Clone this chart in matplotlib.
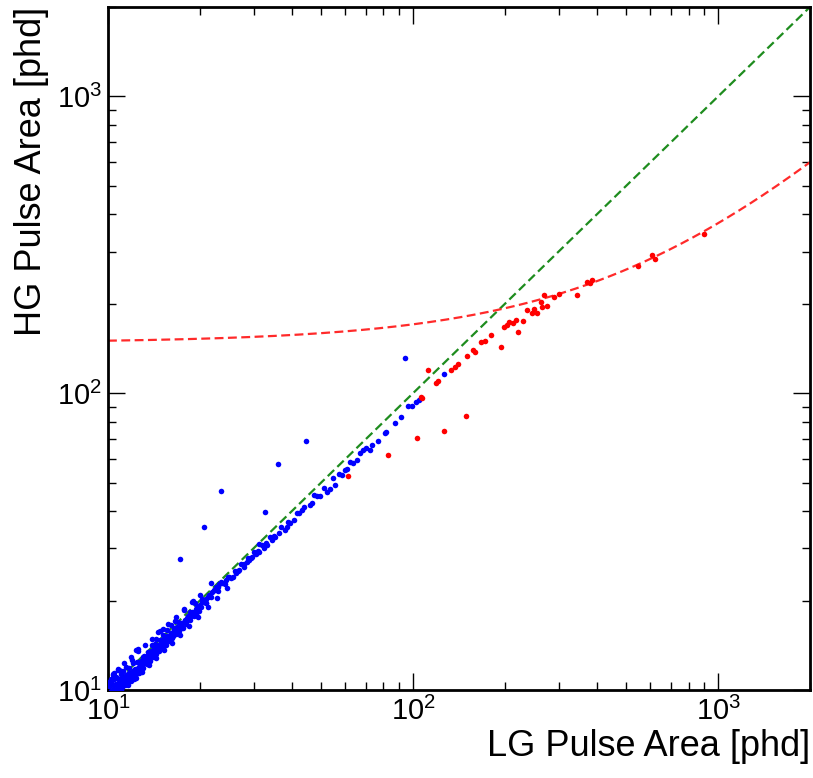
import numpy as np
import matplotlib
matplotlib.use('Agg')
import matplotlib.pyplot as plt
from matplotlib.ticker import LogLocator, NullFormatter

plt.rcParams['font.family'] = ['Liberation Sans', 'DejaVu Sans']
plt.rcParams['mathtext.fontset'] = 'custom'
plt.rcParams['mathtext.rm'] = 'Liberation Sans'
plt.rcParams['mathtext.it'] = 'Liberation Sans:italic'

# pulses below the saturation region (blue)
blue_x = [10.1, 10.2, 10.3, 10.4, 10.5, 10.5, 10.6, 10.7, 10.8, 10.8, 10.9, 11.0, 11.0, 11.1,
          11.2, 11.3, 11.4, 11.5, 11.6, 11.7, 11.8, 11.9, 12.0, 12.1, 12.2, 12.3, 12.4, 12.55,
          12.6, 12.7, 12.8, 12.9, 13.0, 13.1, 13.2, 13.4, 13.5, 13.6, 13.8, 13.9, 14.0, 14.2,
          14.3, 14.5, 14.6, 14.7, 14.9, 15.0, 15.2, 15.3, 15.5, 15.6, 15.8, 16.0, 16.1, 16.3,
          16.5, 16.6, 16.8, 17.0, 17.2, 17.3, 17.5, 17.8, 17.9, 18.1, 18.4, 18.6, 18.8, 19.1,
          19.3, 19.5, 19.8, 20.1, 20.3, 20.6, 20.7, 21.0, 21.3, 21.5, 22.0, 22.3, 22.6, 23.0,
          23.2, 23.5, 23.5, 24.0, 24.4, 25.0, 25.6, 26.2, 26.9, 27.9, 28.5, 29.0, 29.7, 30.5,
          31.2, 31.2, 32.4, 32.7, 33.3, 34.5, 35.4, 36.0, 36.3, 38.0, 38.6, 39.6, 40.6, 42.2,
          43.3, 44.5, 46.0, 46.6, 48.5, 49.7, 52.2, 53.6, 55.6, 58.4, 60.0, 60.7, 63.7, 65.3,
          67.0, 68.7, 72.3, 73.1, 76.6, 80.8, 81.3, 87.5, 91.2, 94.0, 96.3, 99.0, 102.6, 104.5,
          126.0,
          10.15, 10.25, 10.35, 10.45, 10.6, 10.75, 10.9, 11.05, 11.2, 11.35, 11.5, 11.65, 11.8,
          11.95, 12.1, 12.3, 12.5, 12.7, 12.9, 13.1, 13.3, 13.5, 13.7, 14.0, 14.3, 14.6, 15.0,
          15.4, 15.8, 16.3, 16.8, 17.4, 18.0, 18.7, 19.4, 20.2, 21.0,
          10.05, 10.1, 10.2, 10.3, 10.35, 10.45, 10.55, 10.65, 10.7, 10.85, 10.95, 11.05, 11.15,
          11.25, 11.4, 11.45, 11.55, 11.7, 11.85, 12.0, 12.05, 12.2, 12.35, 12.45, 12.6, 12.75,
          12.85, 13.0, 13.05, 13.25, 13.45, 13.55, 13.7, 13.85, 14.05, 14.15, 14.35, 14.55,
          14.75, 14.85, 15.1, 15.25, 15.45, 15.65, 15.85, 16.05, 16.25, 16.45, 16.7, 16.9, 17.1,
          17.4, 17.6, 17.85, 18.05, 18.3, 18.55, 18.9, 19.2, 19.6, 19.9, 20.4, 20.9, 21.4, 21.8,
          22.4, 22.9, 23.6, 24.2, 24.8, 25.4, 26.0, 26.6, 27.3, 28.0, 28.8, 29.5, 30.2, 31.0,
          32.0, 33.0, 34.0, 35.0, 37.0, 39.0, 41.5, 44.0, 47.5, 51.0, 54.5, 57.0, 62.0, 70.0,
          10.9, 12.4, 14.4, 15.2, 16.6, 19.0, 21.8,
          10.4, 10.8, 11.3, 11.9, 12.5, 13.2, 13.9, 14.8, 15.7, 16.7, 17.7, 18.9, 20.0,
          11.0, 11.6, 12.2, 12.9, 13.6, 14.4, 15.3, 16.2, 17.2, 18.4, 19.7, 21.2, 22.7, 24.5]
blue_y = [10.3, 9.9, 10.8, 10.1, 11.4, 9.8, 10.5, 11.0, 11.8, 10.2, 10.6, 11.3, 10.0, 10.7,
          11.6, 10.9, 10.4, 11.2, 10.8, 11.9, 11.1, 10.7, 11.5, 12.3, 11.2, 11.8, 11.0, 13.7,
          12.0, 11.6, 12.5, 12.0, 12.2, 13.0, 12.4, 12.7, 13.4, 12.8, 13.1, 14.2, 13.3, 13.5,
          14.3, 13.8, 15.7, 14.0, 14.6, 14.2, 15.3, 14.5, 14.8, 15.9, 15.0, 15.3, 16.6, 15.5,
          16.2, 15.8, 16.0, 16.9, 27.6, 16.4, 16.8, 18.8, 17.1, 17.5, 17.6, 18.3, 18.0, 18.3,
          19.6, 18.7, 19.0, 19.4, 20.2, 35.4, 19.9, 20.2, 20.6, 20.9, 21.4, 21.8, 22.3, 22.3,
          22.8, 23.2, 47.0, 23.0, 23.4, 24.0, 24.1, 24.7, 25.3, 26.0, 27.0, 27.4, 28.1, 28.8,
          29.2, 31.0, 30.0, 39.8, 30.8, 32.0, 32.8, 57.7, 33.7, 34.6, 35.5, 36.4, 37.3, 39.4,
          40.4, 68.9, 42.0, 42.5, 45.0, 45.0, 46.5, 47.7, 49.0, 53.0, 55.0, 55.7, 58.0, 59.4,
          62.7, 64.3, 64.6, 66.8, 69.0, 73.5, 73.8, 79.4, 83.2, 131.0, 90.3, 90.3, 93.5, 95.0,
          116.0,
          9.7, 10.6, 9.8, 10.9, 10.0, 10.3, 10.2, 10.5, 11.0, 10.6, 10.9, 11.3, 10.9,
          11.3, 11.4, 11.5, 11.9, 12.2, 12.1, 12.6, 12.5, 12.9, 12.9, 13.2, 13.5, 13.9, 14.1,
          14.4, 15.0, 15.2, 15.8, 16.2, 16.9, 17.7, 18.1, 19.1, 19.6,
          10.6, 9.6, 10.9, 9.7, 11.2, 10.4, 10.0, 11.1, 9.9, 10.9, 10.3, 11.6, 10.2,
          11.0, 10.6, 12.0, 10.5, 11.4, 10.8, 12.6, 11.0, 11.7, 11.3, 12.4, 11.4, 12.2,
          11.7, 12.9, 11.9, 12.6, 12.2, 13.1, 12.5, 13.5, 12.9, 13.9, 13.2, 14.2,
          13.5, 14.7, 13.9, 14.9, 14.2, 15.2, 14.6, 15.6, 15.0, 15.9, 15.4, 16.3, 15.8,
          16.8, 16.2, 17.2, 16.7, 17.8, 17.2, 18.3, 17.8, 19.0, 18.5, 19.8, 19.6, 20.8, 20.5,
          21.7, 21.6, 22.9, 22.8, 24.1, 23.9, 25.2, 25.1, 26.5, 26.5, 27.9, 27.9, 29.2, 29.3,
          30.9, 31.2, 32.8, 33.1, 35.5, 36.8, 39.6, 41.5, 45.3, 48.0, 51.8, 53.5, 58.5, 65.5,
          11.7, 13.6, 14.8, 16.0, 17.1, 20.0, 23.0,
          11.3, 11.7, 12.3, 12.9, 13.5, 14.2, 14.9, 15.8, 16.7, 17.6, 18.6, 19.8, 20.9,
          9.9, 10.4, 10.9, 11.5, 12.1, 12.8, 13.6, 14.4, 15.3, 16.4, 17.6, 19.0, 20.4, 22.1]

# saturated pulses (red)
red_x = [61.4, 83, 103, 126, 149, 106.4, 107, 112, 119, 121, 136.8, 140, 133, 150, 156.7,
         160, 167, 172, 180, 194, 199, 203, 206, 212, 220, 217, 230, 237, 245, 250, 255, 262,
         265, 268, 275, 290, 300, 345, 372, 380, 385, 547, 605, 622, 902]
red_y = [52.7, 62, 70.7, 74.5, 84, 97.2, 96.7, 120, 108.4, 110, 122.6, 125, 120, 133, 140,
         138, 149, 150, 157, 143, 167, 170, 174, 172, 161, 177, 175, 190, 186, 192, 186, 203,
         195, 214, 197, 211, 216, 215, 237, 235, 240, 268, 291, 283, 343]

# saturation model HG = a + b * LG
sat_a = 148.0
sat_b = 0.226
x_min, x_max = 10, 2000
y_min, y_max = 10, 2000

fig = plt.figure(figsize=(8.13, 7.78), dpi=100)
ax = fig.add_axes([0.1328, 0.1131, 0.8635, 0.8779])

ax.plot(blue_x, blue_y, 'o', color='#0000ff', ms=4, mew=0, zorder=3)
ax.plot(red_x, red_y, 'o', color='#ff0000', ms=4, mew=0, zorder=3)

xx = np.logspace(np.log10(x_min), np.log10(x_max), 300)
ax.plot(xx, xx, '--', color='#1e8c1e', lw=1.6, dashes=(4, 2), zorder=2)
ax.plot(xx, sat_a + sat_b * xx, '--', color='#ff2a2a', lw=1.6, dashes=(4, 2), zorder=2)

ax.set_xscale('log')
ax.set_yscale('log')
ax.set_xlim(x_min, x_max)
ax.set_ylim(y_min, y_max)

for axis in (ax.xaxis, ax.yaxis):
    axis.set_major_locator(LogLocator(base=10))
    axis.set_minor_locator(LogLocator(base=10, subs=np.arange(2, 10)))
    axis.set_minor_formatter(NullFormatter())

ax.tick_params(which='both', direction='in', top=True, right=True, labelsize=21)
ax.tick_params(which='major', length=12, width=1)
ax.tick_params(which='minor', length=6, width=1)
ax.tick_params(axis='x', pad=5)
ax.tick_params(axis='y', pad=4)
for s in ax.spines.values():
    s.set_linewidth(2)

ax.set_xlabel('LG Pulse Area [phd]', loc='right', fontsize=26, labelpad=2)
ax.set_ylabel('HG Pulse Area [phd]', loc='top', fontsize=26, labelpad=6)

fig.savefig('out.png', dpi=100)
